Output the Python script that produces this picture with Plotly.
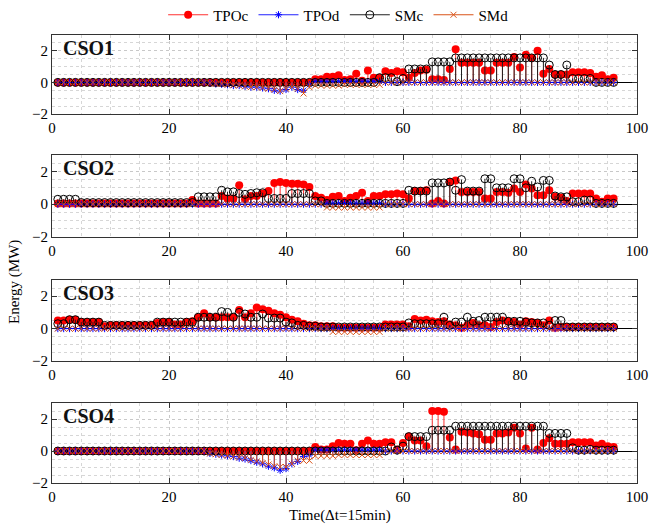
import plotly.graph_objects as go

t = list(range(1, 97))

# ---------------- CSO1 ----------------
TPOc1 = [0,0,0,0,0,0,0,0,0,0,0,0,
         0,0,0,0,0,0,0,0,0,0,0,0,
         0,0,0,0,0,0,0,0,0,0,0,0,
         0,0,0,0,0,0,0,0,0.2,0.2,0.35,0.35,
         0.45,0.15,0.2,0.55,0.1,0.75,0.3,0.3,0.7,0.6,0.7,0.65,
         0.3,0.6,0.75,0.8,0.2,0.2,0.15,0.85,2.1,1.25,1.25,1.25,
         1.25,0.75,0.75,1.25,1.25,1.25,1.6,0.95,1.75,1.55,2.0,0.55,
         0.85,0.5,0.5,0.5,0.65,0.65,0.65,0.6,0.35,0.45,0.2,0.3]
TPOd1 = [0,0,0,0,0,0,0,0,0,0,0,0,
         0,0,0,0,0,0,0,0,0,0,0,0,
         0,0,-0.05,-0.1,-0.12,-0.15,-0.2,-0.2,-0.25,-0.3,-0.3,-0.35,
         -0.4,-0.5,-0.55,-0.45,-0.3,-0.45,-0.5,-0.15,0.05,0.05,0.05,0.05,
         0.05,0.05,0.05,0.05,0.05,0.05,0.05,0.05,0,0,0,0,
         0,0,0,0,0,0,0,0,0,0,0,0,
         0,0,0,0,0,0,0,0,0,0,0,0,
         0,0,0,0,0,0,0,0,0,0,0,0]
SMc1 = [0,0,0,0,0,0,0,0,0,0,0,0,
        0,0,0,0,0,0,0,0,0,0,0,0,
        0,0,0,0,0,0,0,0,0,0,0,0,
        0,0,0,0,0,0,0,0,0,0,0,0,
        0,0,0,0,0,0,0,0.3,0.3,0.3,0.05,0.25,
        0.85,0.85,0.85,0.85,1.3,1.3,1.3,1.3,1.55,1.55,1.55,1.55,
        1.55,1.55,1.55,1.55,1.55,1.55,1.55,1.55,1.55,1.55,1.55,1.55,
        1.1,0.5,0.5,1.1,0.25,0.25,0.25,0.25,0,0,0,0]
SMd1 = [0,0,0,0,0,0,0,0,0,0,0,0,
        0,0,0,0,0,0,0,0,0,0,0,0,
        0,0,-0.05,-0.08,-0.1,-0.15,-0.18,-0.2,-0.25,-0.3,-0.3,-0.35,
        -0.4,-0.45,-0.55,-0.4,-0.3,-0.4,-0.7,-0.3,-0.2,-0.2,-0.2,-0.2,
        -0.2,-0.15,-0.15,-0.15,-0.15,-0.15,-0.15,-0.15,0,0,0,0,
        0,0,0,0,0,0,0,0,0,0,0,0,
        0,0,0,0,0,0,0,0,0,0,0,0,
        0,0,0,0,0,0,0,0,0,0,0,0]

# ---------------- CSO2 ----------------
TPOc2 = [0.05,0.05,0.05,0.05,0.05,0.05,0.05,0.05,0.05,0.05,0.05,0.05,
         0.05,0.05,0.05,0.05,0.05,0.05,0.05,0.05,0.05,0.05,0.05,0.25,
         0.05,0.05,0.05,0.05,0.5,0.35,0.35,1.15,0.3,0.5,0.5,0.65,
         0.8,1.3,1.35,1.3,1.25,1.25,1.2,1.05,0.5,0.4,0.25,0.45,
         0.5,0.2,0.4,0.5,0.7,0.2,0.5,0.5,0.6,0.6,0.65,0.6,
         0.35,0.8,0.8,0.85,0.05,0.2,0.05,1.35,1.45,0.75,0.75,0.75,
         0.75,0.35,0.35,0.75,0.75,0.7,0.95,0.75,1.2,0.95,0.55,0.55,
         0.85,0.45,0.4,0.2,0.65,0.65,0.65,0.65,0.35,0.15,0.35,0.35]
TPOd2 = [0,0,0,0,0,0,0,0,0,0,0,0,
         0,0,0,0,0,0,0,0,0,0,0,0,
         0,0,0,0,0,0,0,0,0,0,0,0,
         0,0,0,0,0,0,0,0,0,0,0.05,0.05,
         0.05,0.05,0.05,0.05,0.05,0.05,0.05,0.05,0,0,0,0,
         0,0,0,0,0,0,0,0,0,0,0,0,
         0,0,0,0,0,0,0,0,0,0,0,0,
         0,0,0,0,0,0,0,0,0,0,0,0]
SMc2 = [0.3,0.3,0.3,0.3,0.1,0.1,0.1,0.1,0.1,0.1,0.1,0.1,
        0.1,0.1,0.1,0.1,0.1,0.1,0.1,0.1,0.1,0.1,0.1,0.1,
        0.45,0.45,0.45,0.45,0.85,0.75,0.75,0.65,0.6,0.65,0.7,0.7,
        0.35,0.35,0.35,0.35,0.65,0.65,0.65,0.65,0.2,0.2,0.05,0.05,
        0.05,0.05,0.05,0.05,0.05,0.05,0.05,0.05,0.05,0.05,0.05,0.05,
        0.85,0.8,0.8,0.8,1.3,1.3,1.3,1.35,0.85,1.5,0.8,0.8,
        0.8,1.55,1.55,1.0,1.0,1.0,1.55,1.55,1.0,1.4,1.05,1.45,
        1.45,0.5,0.45,0.45,0.15,0.15,0.25,0.25,0.05,0.05,0.05,0.05]
SMd2 = [0,0,0,0,0,0,0,0,0,0,0,0,
        0,0,0,0,0,0,0,0,0,0,0,0,
        0,0,0,0,0,0,0,0,0,0,0,0,
        0,0,0,0,0,0,0,0,0,0,-0.2,-0.2,
        -0.2,-0.2,-0.2,-0.2,-0.2,-0.2,-0.2,-0.2,0,0,0,0,
        0,0,0,0,0,0,0,0,0,0,0,0,
        0,0,0,0,0,0,0,0,0,0,0,0,
        0,0,0,0,0,0,0,0,0,0,0,0]

# ---------------- CSO3 ----------------
TPOc3 = [0.5,0.5,0.55,0.55,0.4,0.4,0.4,0.4,0.15,0.2,0.2,0.2,
         0.2,0.2,0.2,0.2,0.2,0.35,0.4,0.4,0.25,0.25,0.4,0.45,
         0.7,0.95,0.7,0.7,0.7,0.7,0.7,1.15,0.7,0.95,1.3,1.2,
         1.1,0.95,0.85,0.7,0.55,0.45,0.3,0.2,0.2,0.15,0.15,0.15,
         0.05,0.05,0.05,0.05,0.05,0.05,0.05,0.05,0.25,0.25,0.25,0.25,
         0.15,0.6,0.5,0.55,0.45,0.4,0.45,0.25,0.2,0.05,0.2,0.35,
         0.2,0.2,0.1,0.4,0.5,0.45,0.4,0.25,0.45,0.4,0.35,0.2,
         0.5,0.05,0.1,0.1,0.1,0.1,0.1,0.1,0.1,0.1,0.1,0.1]
TPOd3 = [0,0,0,0,0,0,0,0,0,0,0,0,
         0,0,0,0,0,0,0,0,0,0,0,0,
         0,0,0,0,0,0,0,0,0,0,0,0,
         0,0,0,0,0,0,0,0,0,0,0,0,
         0,0,0,0,0,0,0,0,0,0,0,0,
         0,0,0,0,0,0,0,0,0,0,0,0,
         0,0,0,0,0,0,0,0,0,0,0,0,
         0,0,0,0,0,0,0,0,0,0,0,0]
SMc3 = [0.3,0.3,0.55,0.55,0.4,0.4,0.4,0.4,0.2,0.2,0.2,0.2,
        0.2,0.2,0.2,0.2,0.2,0.4,0.4,0.4,0.4,0.4,0.4,0.4,
        0.7,0.7,0.7,0.7,1.05,1.0,0.7,1.0,0.9,0.7,0.7,0.9,
        0.65,0.65,0.65,0.4,0.35,0.2,0.2,0.15,0.15,0.1,0.1,0.1,
        0.1,0.1,0.1,0.1,0.1,0.1,0.1,0.1,0.1,0.1,0.1,0.1,
        0.35,0.3,0.3,0.3,0.3,0.3,0.7,0.2,0.4,0.4,0.7,0.45,
        0.5,0.7,0.7,0.7,0.7,0.45,0.45,0.45,0.4,0.35,0.35,0.35,
        0.2,0.5,0.5,0.1,0.1,0.1,0.1,0.1,0.1,0.1,0.1,0.1]
SMd3 = [0,0,0,0,0,0,0,0,0,0,0,0,
        0,0,0,0,0,0,0,0,0,0,0,0,
        0,0,0,0,0,0,0,0,0,0,0,0,
        0,0,0,0,0,0,0,0,0,0,0,-0.2,
        -0.2,-0.2,-0.2,-0.2,-0.2,-0.2,-0.2,-0.2,0,0,0,0,
        0,0,0,0,0,0,0,0,0,0,0,0,
        0,0,0,0,0,0,0,0,0,0,0,0,
        0,0,0,0,0,0,0,0,0,0,0,0]

# ---------------- CSO4 ----------------
TPOc4 = [0,0,0,0,0,0,0,0,0,0,0,0,
         0,0,0,0,0,0,0,0,0,0,0,0,
         0,0,0,0,0,0,0,0,0,0,0,0,
         0,0,0,0,0,0,0,0,0.25,0.1,0.1,0.3,
         0.5,0.45,0.45,0.05,0.45,0.65,0.45,0.45,0.55,0.55,0.1,0.5,
         0.9,0.65,0.65,0.3,2.5,2.5,2.45,0.85,0.1,1.2,1.15,1.1,
         1.05,0.7,0.7,1.1,1.1,1.15,1.45,1.1,0.15,1.45,0.1,0.5,
         0.8,0.45,0.45,0.45,0.55,0.55,0.55,0.55,0.35,0.45,0.3,0.25]
TPOd4 = [0,0,0,0,0,0,0,0,0,0,0,0,
         0,0,0,0,0,0,0,0,0,0,0,0,
         0,0,-0.15,-0.2,-0.25,-0.3,-0.35,-0.45,-0.5,-0.6,-0.7,-0.8,
         -0.95,-1.05,-1.2,-1.1,-0.8,-0.65,-0.35,-0.25,0.05,0.05,0.05,0.05,
         0.05,0.05,0.05,0.05,0.05,0.05,0.05,0.05,0,0,0,0,
         0,0,0,0,0,0,0,0,0,0,0,0,
         0,0,0,0,0,0,0,0,0,0,0,0,
         0,0,0,0,0,0,0,0,0,0,0,0]
SMc4 = [0,0,0,0,0,0,0,0,0,0,0,0,
        0,0,0,0,0,0,0,0,0,0,0,0,
        0,0,0,0,0,0,0,0,0,0,0,0,
        0,0,0,0,0,0,0,0,0,0,0,0,
        0,0,0,0,0,0,0,0,0,0.25,0.05,0.3,
        0.9,0.9,0.9,0.9,1.3,1.3,1.3,1.3,1.55,1.55,1.55,1.55,
        1.55,1.55,1.55,1.55,1.55,1.55,1.55,1.55,1.55,1.55,1.55,1.55,
        1.1,1.1,1.1,1.1,0.2,0.05,0.05,0.1,0.05,0.05,0.05,0.05]
SMd4 = [0,0,0,0,0,0,0,0,0,0,0,0,
        0,0,0,0,0,0,0,0,0,0,0,0,
        0,0,-0.15,-0.2,-0.25,-0.3,-0.35,-0.4,-0.45,-0.55,-0.65,-0.75,
        -0.85,-0.95,-1.0,-1.0,-0.8,-0.6,-0.6,-0.6,-0.3,-0.3,-0.3,-0.3,
        -0.25,-0.25,-0.25,-0.25,-0.25,-0.25,-0.25,-0.25,0,0,0,0,
        0,0,0,0,0,0,0,0,0,0,0,0,
        0,0,0,0,0,0,0,0,0,0,0,0,
        0,0,0,0,0,0,0,0,0,0,0,0]

panel_names = ["CSO1", "CSO2", "CSO3", "CSO4"]
panels = [
    {"TPOc": TPOc1, "TPOd": TPOd1, "SMc": SMc1, "SMd": SMd1},
    {"TPOc": TPOc2, "TPOd": TPOd2, "SMc": SMc2, "SMd": SMd2},
    {"TPOc": TPOc3, "TPOd": TPOd3, "SMc": SMc3, "SMd": SMd3},
    {"TPOc": TPOc4, "TPOd": TPOd4, "SMc": SMc4, "SMd": SMd4},
]
series_names = ["TPOc", "TPOd", "SMc", "SMd"]

styles = {
    "TPOc": dict(line="#ff3030", marker=dict(symbol="circle", size=8, color="#ff0000",
                                              line=dict(width=0))),
    "TPOd": dict(line="#2020ff", marker=dict(symbol="asterisk-open", size=6, color="#0000ff",
                                              line=dict(width=1, color="#0000ff"))),
    "SMc": dict(line="#202020", marker=dict(symbol="circle-open", size=8, color="#000000",
                                             line=dict(width=1, color="#000000"))),
    "SMd": dict(line="#D95319", marker=dict(symbol="x-thin-open", size=6, color="#D95319",
                                             line=dict(width=1, color="#D95319"))),
}

FONT = "Liberation Serif, Times New Roman, serif"
W, H = 651, 528
ML, MR, MT, MB = 52, 14, 35, 45
PH = H - MT - MB
panel_px = [(35, 114), (155, 237), (280, 361), (403, 483)]

fig = go.Figure()

for i, data in enumerate(panels):
    ax = "" if i == 0 else str(i + 1)
    for name in series_names:
        vals = data[name]
        sx, sy = [], []
        for xi, yi in zip(t, vals):
            sx += [xi, xi, None]
            sy += [0, yi, None]
        st = styles[name]
        fig.add_trace(go.Scatter(x=sx, y=sy, mode="lines", line=dict(color=st["line"], width=1),
                                 showlegend=False, hoverinfo="skip",
                                 xaxis="x" + ax, yaxis="y" + ax))
        fig.add_trace(go.Scatter(x=t, y=vals, mode="markers", marker=st["marker"],
                                 showlegend=False, name=name,
                                 xaxis="x" + ax, yaxis="y" + ax))

# legend entries
for name in series_names:
    st = styles[name]
    fig.add_trace(go.Scatter(x=[None], y=[None], mode="lines+markers", name=name,
                             line=dict(color=st["line"], width=1), marker=st["marker"]))

layout = dict(
    width=W, height=H,
    margin=dict(l=ML, r=MR, t=MT, b=MB, pad=0, autoexpand=False),
    paper_bgcolor="white", plot_bgcolor="white",
    font=dict(family=FONT, size=15, color="#000000"),
    showlegend=True,
    legend=dict(orientation="h", x=0.49, xanchor="center", y=(H - MB - 15) / PH, yanchor="middle",
                font=dict(family=FONT, size=15), bgcolor="rgba(0,0,0,0)", itemwidth=40,
                tracegroupgap=0),
)

annotations = []
for i in range(4):
    ax = "" if i == 0 else str(i + 1)
    top, bot = panel_px[i]
    dom = [1 - (bot - MT) / PH, 1 - (top - MT) / PH]
    layout["xaxis" + ax] = dict(
        domain=[0, 1], anchor="y" + ax, range=[0, 100], dtick=20, tick0=0,
        ticks="inside", ticklen=5, tickcolor="#333333", showline=True, linecolor="#333333",
        linewidth=1, mirror="ticks", showgrid=True, gridcolor="#c8c8c8", griddash="dot",
        gridwidth=1, zeroline=False, automargin=False,
        minor=dict(dtick=5, tick0=0, showgrid=True, gridcolor="#d6d6d6", griddash="dot",
                   gridwidth=1),
        tickfont=dict(family=FONT, size=15, color="#000000"),
    )
    layout["yaxis" + ax] = dict(
        domain=dom, anchor="x" + ax, range=[-2, 3], tickvals=[-2, 0, 2],
        ticks="inside", ticklen=5, tickcolor="#333333", showline=True, linecolor="#333333",
        linewidth=1, mirror="ticks", showgrid=True, gridcolor="#c8c8c8", griddash="dot",
        gridwidth=1, zeroline=True, zerolinecolor="#000000", zerolinewidth=1, automargin=False,
        minor=dict(dtick=0.5, tick0=-2, showgrid=True, gridcolor="#d6d6d6", griddash="dot",
                   gridwidth=1),
        tickfont=dict(family=FONT, size=15, color="#000000"),
    )
    annotations.append(dict(
        text="<b>" + panel_names[i] + "</b>", xref="x" + ax + " domain", yref="y" + ax + " domain",
        x=0.016, y=1 - 13 / (bot - top), xanchor="left", yanchor="middle", showarrow=False,
        font=dict(family=FONT, size=20, color="#111111"),
    ))

annotations.append(dict(text="Energy (MW)", xref="paper", yref="paper",
                        x=(14 - ML) / (W - ML - MR), y=(H - MB - 282) / PH,
                        xanchor="center", yanchor="middle", textangle=-90, showarrow=False,
                        font=dict(family=FONT, size=15, color="#000000")))
annotations.append(dict(text="Time(Δt=15min)", xref="paper", yref="paper",
                        x=(340 - ML) / (W - ML - MR), y=(H - MB - 515) / PH,
                        xanchor="center", yanchor="middle", showarrow=False,
                        font=dict(family=FONT, size=15, color="#000000")))
layout["annotations"] = annotations

fig.update_layout(**layout)
fig.write_html("out.html", config={"displayModeBar": False},
               post_script="document.body.style.margin='0px';document.body.style.overflow='hidden';")
